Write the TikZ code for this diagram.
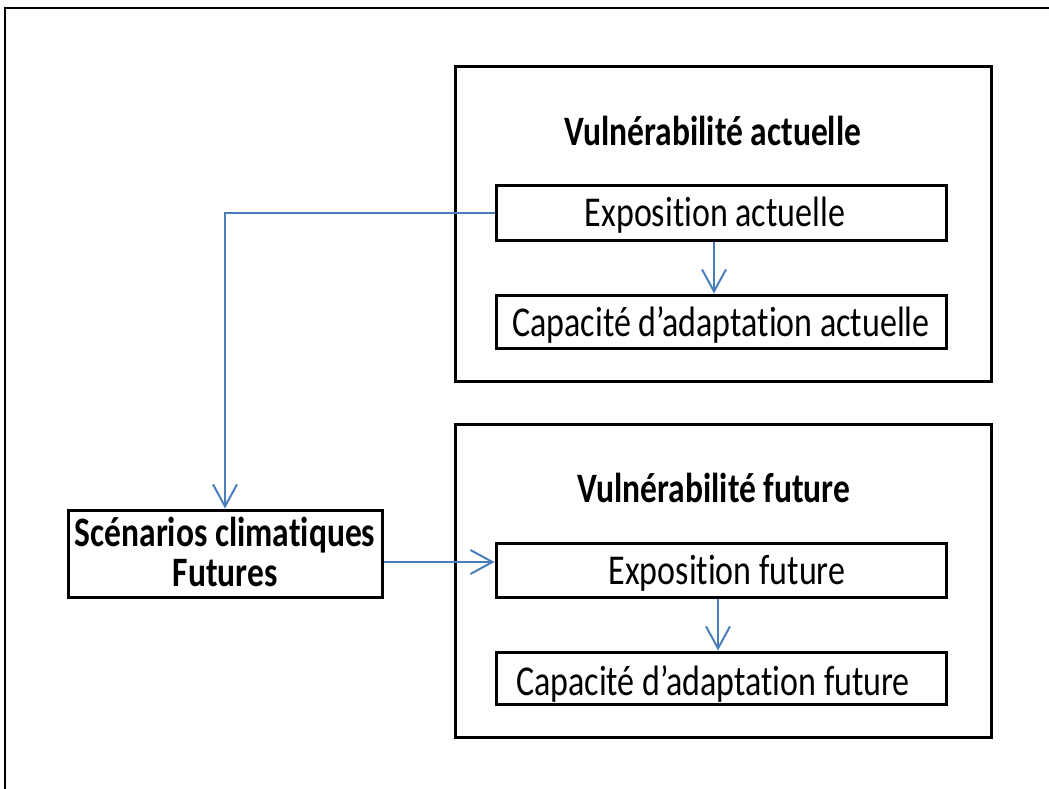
\documentclass[tikz,border=0pt]{standalone}
\usepackage{graphicx}
\usepackage{fontspec}
\setmainfont{Carlito}[Ligatures={NoCommon}]
\usetikzlibrary{arrows.meta}
\definecolor{conblue}{HTML}{4A7EBB}
\newcommand{\talltext}[2][0pt]{\raisebox{#1}[\height][\depth]{\scalebox{1}[1.25]{#2}}}
\tikzset{
  bigbox/.style={draw=black, line width=3pt, minimum width=536pt, minimum height=314pt, inner sep=0pt},
  smallbox/.style={draw=black, line width=3pt, minimum width=450pt, inner sep=0pt, font=\fontsize{34}{40}\selectfont},
  titletext/.style={font=\bfseries\fontsize{33.5}{40}\selectfont, inner sep=0pt},
  conn/.style={draw=conblue, line width=2pt},
  arr/.style={conn, -{Straight Barb[length=22pt,width=24pt,line width=2pt]}},
}
\begin{document}
\begin{tikzpicture}[x=1pt,y=-1pt]
\useasboundingbox (0,0) rectangle (1049,789);
\draw[line width=1.5pt] (5,789) -- (5,8) -- (1049,8);

\node[bigbox] (big1) at (723,224) {};
\node[bigbox, minimum height=313pt] (big2) at (723,580.5) {};
\node[titletext] (t1) at (713,131) {\talltext{Vulnérabilité actuelle}};
\node[titletext] (t2) at (714,488) {\talltext{Vulnérabilité future}};

\node[smallbox, minimum height=55pt] (ea) at (721,212.5) {\talltext[-3pt]{Exposition actuelle}\hspace*{12pt}};
\node[smallbox, minimum height=53pt] (ca) at (721,321.5) {\talltext[-3pt]{Capacité d’adaptation actuelle}};
\node[smallbox, minimum height=54pt] (ef) at (721,570) {\hspace*{12pt}\talltext[-3pt]{Exposition future}};
\node[smallbox, minimum height=52pt] (cf) at (721,678) {\talltext[-6pt]{Capacité d’adaptation future}\hspace*{16pt}};

\node[draw=black, line width=3pt, minimum width=314pt, minimum height=87pt, inner sep=0pt,
      align=center, font=\bfseries\fontsize{33.5}{40}\selectfont] (sc) at (225,553.5)
      {\talltext[2pt]{Scénarios climatiques}\\\talltext[2pt]{Futures}};

\draw[arr] ([xshift=-7pt]ea.south) -- ([xshift=-7pt]ca.north);
\draw[arr] ([xshift=-3pt]ef.south) -- ([xshift=-3pt]cf.north);
\coordinate (corner) at (sc.north |- ea.west);
\draw[arr] (ea.west) -- (corner) -- (sc.north);
\draw[arr] ([yshift=-8.5pt]sc.east) -- ([yshift=-8.5pt]sc.east -| ef.west);
\end{tikzpicture}
\end{document}
